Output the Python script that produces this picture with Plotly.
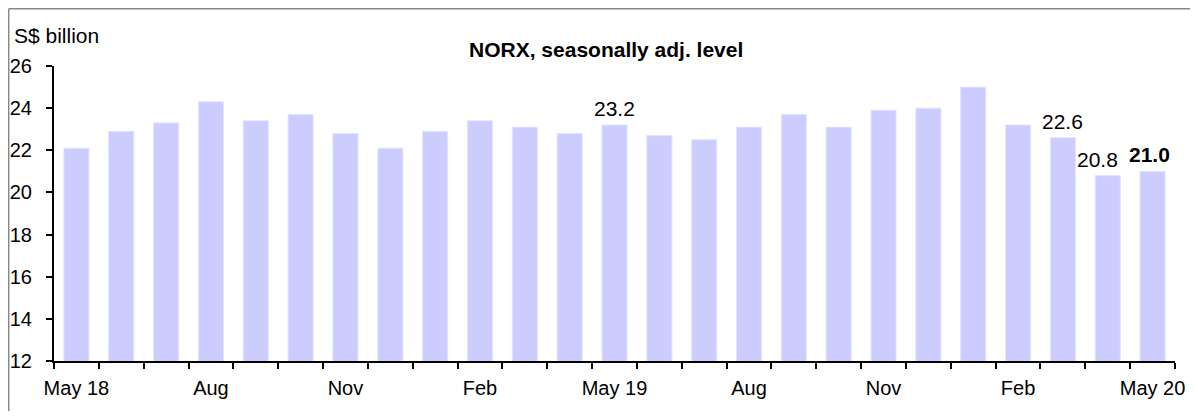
import plotly.graph_objects as go

months = ["May 18", "Jun 18", "Jul 18", "Aug 18", "Sep 18", "Oct 18", "Nov 18", "Dec 18",
          "Jan 19", "Feb 19", "Mar 19", "Apr 19", "May 19", "Jun 19", "Jul 19", "Aug 19",
          "Sep 19", "Oct 19", "Nov 19", "Dec 19", "Jan 20", "Feb 20", "Mar 20", "Apr 20", "May 20"]
values = [22.1, 22.9, 23.3, 24.3, 23.4, 23.7, 22.8, 22.1, 22.9, 23.4, 23.1, 22.8, 23.2,
          22.7, 22.5, 23.1, 23.7, 23.1, 23.9, 24.0, 25.0, 23.2, 22.6, 20.8, 21.0]
tick_idx = [0, 3, 6, 9, 12, 15, 18, 21, 24]
tick_text = ["May 18", "Aug", "Nov", "Feb", "May 19", "Aug", "Nov", "Feb", "May 20"]
label_idx = [12, 22, 23, 24]
label_bold = [False, False, False, True]
label_shift = [0, 0, -10, -3]

FONT = "Arial, Liberation Sans, sans-serif"
x = list(range(len(months)))

fig = go.Figure()
fig.add_trace(go.Bar(
    x=x, y=values, width=0.56,
    marker=dict(color="#CCCCFF", line=dict(color="#E4E4FF", width=1)),
    hoverinfo="skip",
))

for i, b, s in zip(label_idx, label_bold, label_shift):
    txt = f"{values[i]:.1f}"
    if b:
        txt = f"<b>{txt}</b>"
    fig.add_annotation(x=x[i], y=values[i], text=txt, showarrow=False,
                       yanchor="bottom", yshift=3, xshift=s,
                       font=dict(family=FONT, size=21, color="black"))

# the page places the figure after an 8px body margin
OFF = 8
L, R, T, B = 46, 15, 58, 50
W, H = 1182, 403
pw, ph = W - L - R, H - T - B

def px2x(px):
    return (px - OFF - L) / pw

def py2y(py):
    return (OFF + H - B - py) / ph

fig.add_annotation(xref="paper", yref="paper", x=px2x(606), y=py2y(50),
                   text="<b>NORX, seasonally adj. level</b>", showarrow=False,
                   xanchor="center", yanchor="middle",
                   font=dict(family=FONT, size=21, color="black"))
fig.add_annotation(xref="paper", yref="paper", x=px2x(12), y=py2y(35),
                   text="S$ billion", showarrow=False,
                   xanchor="left", yanchor="middle",
                   font=dict(family=FONT, size=21, color="black"))

# outer frame (only top and left visible in the window)
fig.add_shape(type="line", xref="paper", yref="paper",
              x0=px2x(8.7), y0=py2y(8.7), x1=px2x(1200), y1=py2y(8.7),
              line=dict(color="#888888", width=1.5))
fig.add_shape(type="line", xref="paper", yref="paper",
              x0=px2x(8.7), y0=py2y(8.7), x1=px2x(8.7), y1=py2y(420),
              line=dict(color="#888888", width=1.5))

fig.update_layout(
    width=W, height=H, autosize=False,
    margin=dict(l=L, r=R, t=T, b=B, autoexpand=False),
    paper_bgcolor="white", plot_bgcolor="white",
    showlegend=False,
    font=dict(family=FONT, size=20, color="black"),
)
fig.update_xaxes(
    range=[-0.5, len(months) - 0.5],
    tickmode="array", tickvals=tick_idx, ticktext=tick_text,
    ticks="", showgrid=False, zeroline=False, automargin=False,
    showline=True, linecolor="black", linewidth=2,
    tickfont=dict(family=FONT, size=20, color="black"),
    minor=dict(ticks="outside", tick0=-0.5, dtick=1, ticklen=6,
               tickwidth=2, tickcolor="black", showgrid=False),
    ticklabelstandoff=8,
)
fig.update_yaxes(
    range=[12, 26], dtick=2, tick0=12, automargin=False,
    ticks="outside", ticklen=6, tickwidth=2, tickcolor="black",
    showgrid=False, zeroline=False,
    showline=True, linecolor="black", linewidth=2,
    tickfont=dict(family=FONT, size=20, color="black"),
    ticklabelstandoff=10,
)

fig.write_html("out.html")
